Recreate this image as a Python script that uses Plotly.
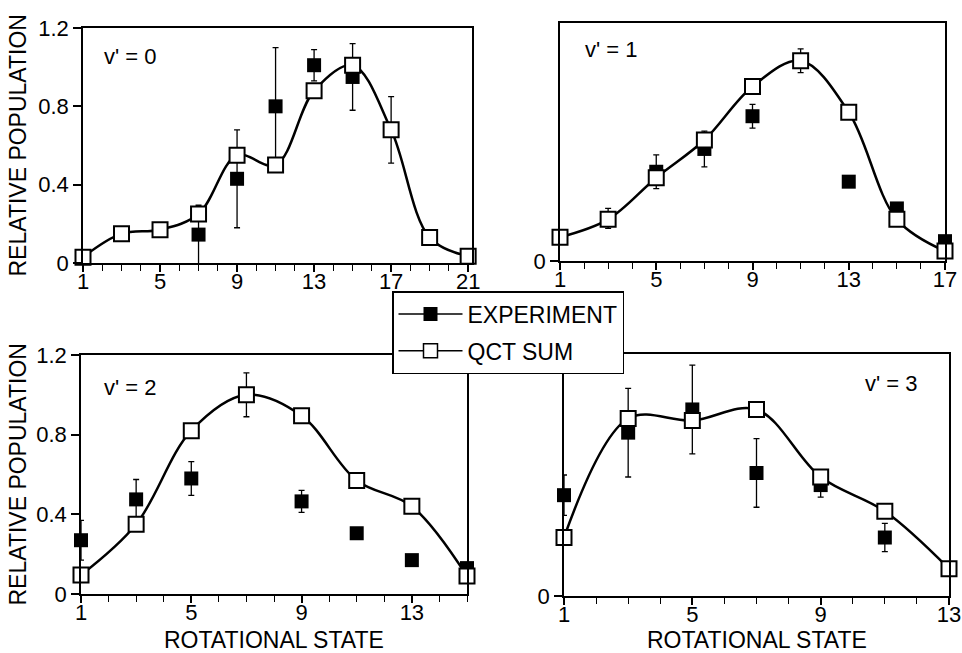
import plotly.graph_objects as go

# ---------------- data ----------------
v0_J = [1, 3, 5, 7, 9, 11, 13, 15, 17, 19, 21]
v0_qct = [0.03, 0.15, 0.17, 0.25, 0.55, 0.50, 0.88, 1.01, 0.68, 0.13, 0.035]
v0_exp_J = [7, 9, 11, 13, 15, 17]
v0_exp = [0.145, 0.43, 0.80, 1.01, 0.95, 0.68]
v0_err = [0.15, 0.25, 0.30, 0.08, 0.17, 0.17]

v1_J = [1, 3, 5, 7, 9, 11, 13, 15, 17]
v1_qct = [0.12, 0.21, 0.42, 0.61, 0.88, 1.01, 0.75, 0.21, 0.05]
v1_exp_J = [3, 5, 7, 9, 11, 13, 15, 17]
v1_exp = [0.215, 0.45, 0.565, 0.73, 1.01, 0.40, 0.265, 0.10]
v1_err = [0.05, 0.085, 0.09, 0.06, 0.06, 0.02, 0.0, 0.0]

v2_J = [1, 3, 5, 7, 9, 11, 13, 15]
v2_qct = [0.095, 0.35, 0.82, 1.0, 0.895, 0.57, 0.44, 0.09]
v2_exp_J = [1, 3, 5, 7, 9, 11, 13, 15]
v2_exp = [0.27, 0.475, 0.58, 1.0, 0.465, 0.305, 0.17, 0.13]
v2_err = [0.10, 0.10, 0.085, 0.11, 0.055, 0.0, 0.0, 0.0]

v3_J = [1, 3, 5, 7, 9, 11, 13]
v3_qct = [0.29, 0.88, 0.87, 0.925, 0.59, 0.42, 0.135]
v3_exp_J = [1, 3, 5, 7, 9, 11]
v3_exp = [0.50, 0.81, 0.925, 0.61, 0.55, 0.29]
v3_err = [0.10, 0.22, 0.22, 0.17, 0.06, 0.07]

panel_labels = ["v' = 0", "v' = 1", "v' = 2", "v' = 3"]
y_ticks_full = [0, 0.4, 0.8, 1.2]
y_ticktext_full = ["0", "0.4", "0.8", "1.2"]
x_ranges = [[1, 21.2], [1, 17], [1, 15], [1, 13]]
legend_names = ["EXPERIMENT", "QCT SUM"]
x_title = "ROTATIONAL STATE"
y_title = "RELATIVE POPULATION"

# ---------------- layout geometry (pixels) ----------------
W, H = 962, 653
FONT = "Liberation Sans, Arial, Helvetica, sans-serif"
# (left, right, top, bottom) in pixels for each panel frame
frames = [(83, 472, 28, 263), (560, 945, 23, 261), (81, 467, 355, 594), (564, 949, 354, 596)]

fig = go.Figure()

panels = [
    (v0_J, v0_qct, v0_exp_J, v0_exp, v0_err),
    (v1_J, v1_qct, v1_exp_J, v1_exp, v1_err),
    (v2_J, v2_qct, v2_exp_J, v2_exp, v2_err),
    (v3_J, v3_qct, v3_exp_J, v3_exp, v3_err),
]

for i, (J, qct, eJ, ev, ee) in enumerate(panels):
    xa = "x" if i == 0 else f"x{i+1}"
    ya = "y" if i == 0 else f"y{i+1}"
    fig.add_trace(go.Scatter(
        x=eJ, y=ev, mode="markers", xaxis=xa, yaxis=ya, showlegend=False,
        marker=dict(symbol="square", size=14, color="black", line=dict(width=0)),
        error_y=dict(type="data", array=ee, visible=True, color="black", thickness=1.3, width=3),
        cliponaxis=False,
    ))
    fig.add_trace(go.Scatter(
        x=J, y=qct, mode="lines+markers", xaxis=xa, yaxis=ya, showlegend=False,
        line=dict(color="black", width=2.5, shape="spline", smoothing=1.0),
        marker=dict(symbol="square", size=15, color="white", line=dict(color="black", width=2)),
        cliponaxis=False,
    ))

# legend entries
fig.add_trace(go.Scatter(
    x=[None], y=[None], mode="lines+markers", name=legend_names[0], legendgroup="a",
    line=dict(color="black", width=1.5),
    marker=dict(symbol="square", size=14, color="black"),
))
fig.add_trace(go.Scatter(
    x=[None], y=[None], mode="lines+markers", name=legend_names[1], legendgroup="b",
    line=dict(color="black", width=1.5),
    marker=dict(symbol="square", size=14, color="white", line=dict(color="black", width=1.5)),
))

common_x = dict(
    showline=True, mirror=True, linecolor="black", linewidth=1.5,
    showgrid=False, zeroline=False, automargin=False,
    ticks="outside", ticklen=7, tickwidth=1.5, tickcolor="black",
    tick0=1, dtick=4, ticklabelstandoff=-9,
    minor=dict(ticks="outside", dtick=1, tick0=1, ticklen=6, tickwidth=1.2, tickcolor="black"),
    tickfont=dict(family=FONT, size=22, color="black"),
)
common_y = dict(
    showline=True, mirror=True, linecolor="black", linewidth=1.5,
    showgrid=False, zeroline=False, automargin=False,
    ticks="outside", ticklen=8, tickwidth=1.5, tickcolor="black",
    range=[0, 1.2],
    tickfont=dict(family=FONT, size=22, color="black"),
)

layout = {}
for i, (l, r, t, b) in enumerate(frames):
    xk = "xaxis" if i == 0 else f"xaxis{i+1}"
    yk = "yaxis" if i == 0 else f"yaxis{i+1}"
    ya = "y" if i == 0 else f"y{i+1}"
    xa = "x" if i == 0 else f"x{i+1}"
    layout[xk] = dict(common_x, domain=[l / W, r / W], range=x_ranges[i], anchor=ya)
    if i in (0, 2):
        yt = dict(tickvals=y_ticks_full, ticktext=y_ticktext_full)
    else:
        yt = dict(tickvals=[0], ticktext=["0"])
    layout[yk] = dict(common_y, domain=[1 - b / H, 1 - t / H], anchor=xa, **yt)

fig.update_layout(**layout)

annotations = []
# panel labels
lab_pos = [(0.049, 0.877), (0.06, 0.887), (0.054, 0.866), (0.777, 0.88)]
for i, (px, py) in enumerate(lab_pos):
    xa = "x" if i == 0 else f"x{i+1}"
    ya = "y" if i == 0 else f"y{i+1}"
    annotations.append(dict(
        text=panel_labels[i], xref=f"{xa} domain", yref=f"{ya} domain",
        x=px, y=py, xanchor="left", yanchor="middle", showarrow=False,
        font=dict(family=FONT, size=22, color="black"),
    ))
# y titles
for i in (0, 2):
    l, r, t, b = frames[i]
    annotations.append(dict(
        text=y_title, xref="paper", yref="paper", x=17 / W, y=1 - (t + b) / 2 / H,
        xanchor="center", yanchor="middle", textangle=-90, showarrow=False,
        font=dict(family=FONT, size=23, color="black"),
    ))
# x titles
for i in (2, 3):
    l, r, t, b = frames[i]
    annotations.append(dict(
        text=x_title, xref="paper", yref="paper", x=(l + r) / 2 / W, y=1 - 640 / H,
        xanchor="center", yanchor="middle", showarrow=False,
        font=dict(family=FONT, size=23, color="black"),
    ))

fig.update_layout(
    width=W, height=H, autosize=False,
    margin=dict(l=0, r=0, t=0, b=0, pad=0),
    paper_bgcolor="white", plot_bgcolor="white",
    annotations=annotations,
    showlegend=True,
    legend=dict(
        x=392 / W, y=1 - 291 / H, xanchor="left", yanchor="top",
        bgcolor="white", bordercolor="black", borderwidth=1.5,
        font=dict(family=FONT, size=23, color="black"),
        traceorder="grouped", tracegroupgap=4, itemwidth=64,
        entrywidth=184, entrywidthmode="pixels",
    ),
)

fig.write_html("out.html")
